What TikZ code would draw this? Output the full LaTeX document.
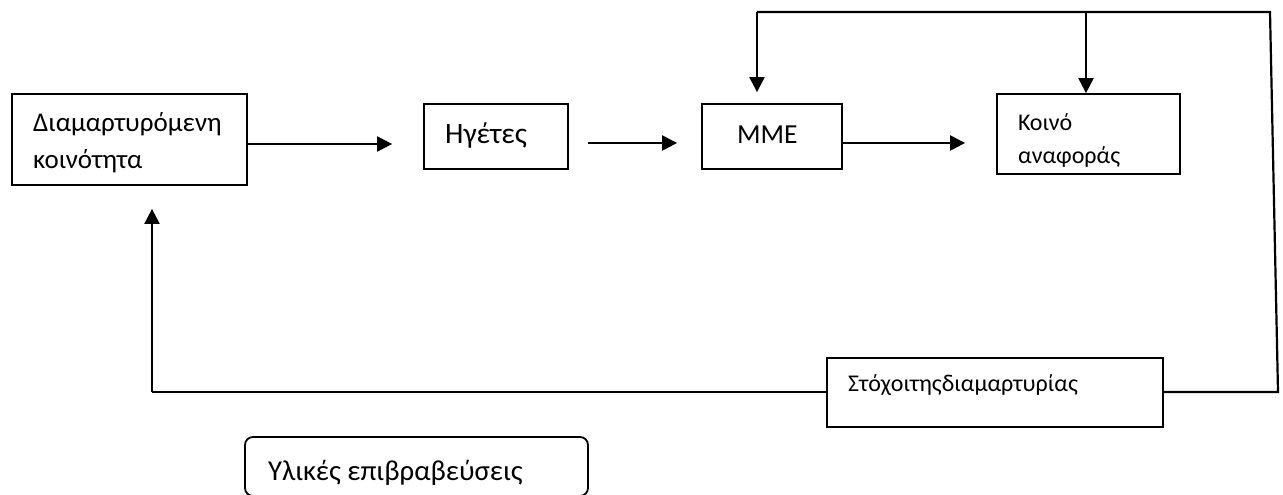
\documentclass[tikz,border=0pt]{standalone}
\usepackage{fontspec}
\setmainfont{Carlito}
\usetikzlibrary{arrows.meta}
\begin{document}
\begin{tikzpicture}[x=1pt,y=-1pt,
  box/.style={draw,line width=1.8pt,inner sep=0pt},
  conn/.style={line width=2.2pt},
  arr/.style={conn,-{Triangle[length=15pt,width=15pt]}},
  txt/.style={inner sep=0pt,align=left,anchor=base west}]
\useasboundingbox[fill=white] (0,0) rectangle (1283,495);
% boxes
\node[box,minimum width=235pt,minimum height=91pt] (b1) at (129.5,139.5) {};
\node[box,minimum width=144pt,minimum height=65pt] (b2) at (496,136.5) {};
\node[box,minimum width=140pt,minimum height=65pt] (b3) at (772,136.5) {};
\node[box,minimum width=183pt,minimum height=80pt] (b4) at (1088.5,134) {};
\node[box,minimum width=336pt,minimum height=69pt] (b5) at (995,392.5) {};
\node[box,rounded corners=8pt,minimum width=343pt,minimum height=59pt] (b6) at (416.5,466.5) {};
% texts
\node[txt,font=\fontsize{27}{37}\selectfont] (t1) at (33,168) {Διαμαρτυρόμενη\\κοινότητα};
\node[txt,font=\fontsize{29.5}{34}\selectfont] (t2) at (445,143) {Ηγέτες};
\node[txt,font=\fontsize{27.5}{34}\selectfont] (t3) at (737,143) {ΜΜΕ};
\node[txt,font=\fontsize{24}{33}\selectfont] (t4) at (1018,163) {Κοινό\\αναφοράς};
\node[txt,font=\fontsize{24}{30}\selectfont] (t5) at (848,391) {Στόχοιτηςδιαμαρτυρίας};
\node[txt,font=\fontsize{28.8}{34}\selectfont] (t6) at (268,480) {Υλικές επιβραβεύσεις};
% connector corners
\coordinate (tl) at (757,12);
\coordinate (tm) at (1086,12);
\coordinate (tr) at (1270,12);
\coordinate (br) at (1278,392);
\coordinate (bl) at (152,392);
% forward arrows
\draw[arr,shorten >=31pt] (b1.east |- 0,144) -- (b2.west |- 0,144);
\draw[arr,shorten <=19pt,shorten >=24pt] (b2.east |- 0,143) -- (b3.west |- 0,143);
\draw[arr,shorten >=31pt] (b3.east |- 0,143) -- (b4.west |- 0,143);
% feedback loop
\draw[conn] (b5.east |- br) -- (br) -- (tr) -- (tl);
\draw[arr,shorten >=11pt] (tl) -- (tl |- b3.north);
\draw[arr] (tm) -- (tm |- b4.north);
\draw[conn] (b5.west |- bl) -- (bl);
\draw[arr,shorten >=23pt] (bl) -- (bl |- b1.south);
\end{tikzpicture}
\end{document}
